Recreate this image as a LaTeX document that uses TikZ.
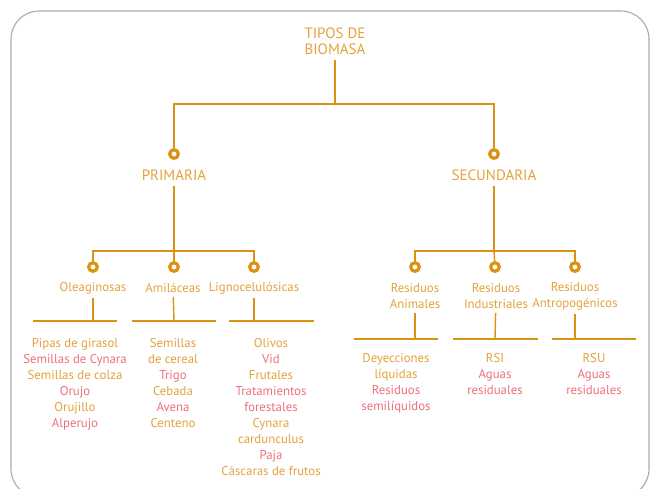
\documentclass[tikz,border=0pt]{standalone}
\usepackage{fontspec}
\setmainfont{PT Sans}
\usepackage{tikz}
\usetikzlibrary{positioning, calc}
\definecolor{lnc}{HTML}{DB9212}
\definecolor{org}{HTML}{E3A23A}
\definecolor{pnk}{HTML}{EE6F7A}
\definecolor{frm}{HTML}{A9A9AD}
\begin{document}
\begin{tikzpicture}[x=1pt,y=-1pt]
	 \tikzstyle{every node}=[font=\fontsize{12.8}{16}\selectfont]
	 \tikzstyle{edge} = [draw,line width=1.4pt,lnc]
	 \tikzstyle{dot}=[circle,draw=lnc,fill=white,line width=3.2pt,minimum size=8.6pt,inner sep=0pt]
	 \tikzstyle{titulo}=[text=org,align=center,inner sep=4pt]
	 \tikzstyle{mayus}=[titulo,font=\fontsize{15}{16}\selectfont,inner sep=5pt]
	 \tikzstyle{lista}=[text=org,align=center,anchor=north,inner sep=0pt]
	 \useasboundingbox (0,0) rectangle (651,488);
	 \draw[frm,line width=1.1pt,rounded corners=28pt] (11,11) rectangle (649,497);
	 % niveles superiores
	 \node[mayus] (tipos) at (335,41) {TIPOS DE\\BIOMASA};
	 \node[dot] (dpri) at (174,154) {};
	 \node[dot] (dsec) at (494,154) {};
	 \node[mayus] (pri) at (174,175) {PRIMARIA};
	 \node[mayus] (sec) at (494,175) {SECUNDARIA};
	 \coordinate (b0) at (335,104);
	 \draw[edge] (tipos) -- (b0);
	 \draw[edge] (dpri) |- (b0) -| (dsec);
	 % primaria
	 \node[dot] (dole) at (93,267) {};
	 \node[dot] (dami) at (174,267) {};
	 \node[dot] (dlig) at (254,267) {};
	 \coordinate (b1) at (174,251);
	 \draw[edge] (pri) -- (b1);
	 \draw[edge] (dole) |- (b1) -| (dlig);
	 \draw[edge] (b1) -- (dami);
	 \node[titulo] (ole) at (93,288) {Oleaginosas};
	 \node[titulo] (ami) at (173,288) {Amiláceas};
	 \node[titulo] (lig) at (254,288) {Lignocelulósicas};
	 \coordinate (bole) at (93,321);
	 \coordinate (bami) at (174,321);
	 \coordinate (blig) at (254,321);
	 \draw[edge] (ole) -- (bole);
	 \draw[edge] (ami) -- (bami);
	 \draw[edge] (lig) -- (blig);
	 \draw[edge] (33,321) -- (117,321);
	 \draw[edge] (132,321) -- (216,321);
	 \draw[edge] (229,321) -- (314,321);
	 \node[lista] (lole) at (75,338) {Pipas de girasol\\\textcolor{pnk}{Semillas de Cynara}\\Semillas de colza\\\textcolor{pnk}{Orujo}\\Orujillo\\\textcolor{pnk}{Alperujo}};
	 \node[lista] (lami) at (173,338) {Semillas\\de cereal\\\textcolor{pnk}{Trigo}\\Cebada\\\textcolor{pnk}{Avena}\\Centeno};
	 \node[lista] (llig) at (271,338) {Olivos\\\textcolor{pnk}{Vid}\\Frutales\\\textcolor{pnk}{Tratamientos}\\\textcolor{pnk}{forestales}\\Cynara\\cardunculus\\\textcolor{pnk}{Paja}\\Cáscaras de frutos};
	 % secundaria
	 \node[dot] (dani) at (415,267) {};
	 \node[dot] (dind) at (495,267) {};
	 \node[dot] (dant) at (575,267) {};
	 \coordinate (b2) at (494,251);
	 \draw[edge] (sec) -- (b2);
	 \draw[edge] (dani) |- (b2) -| (dant);
	 \draw[edge] (b2) -- (dind);
	 \node[titulo] (ani) at (415,296) {Residuos\\Animales};
	 \node[titulo] (ind) at (496,296) {Residuos\\Industriales};
	 \node[titulo] (ant) at (575,296) {Residuos\\Antropogénicos};
	 \coordinate (bani) at (415,339);
	 \coordinate (bind) at (495,339);
	 \coordinate (bant) at (575,339);
	 \draw[edge] (ani) -- (bani);
	 \draw[edge] (ind) -- (bind);
	 \draw[edge] (ant) -- (bant);
	 \draw[edge] (354,339) -- (438,339);
	 \draw[edge] (453,339) -- (538,339);
	 \draw[edge] (552,339) -- (636,339);
	 \node[lista] (lani) at (396,353) {Deyecciones\\líquidas\\\textcolor{pnk}{Residuos}\\\textcolor{pnk}{semilíquidos}};
	 \node[lista] (lind) at (495,353) {RSI\\\textcolor{pnk}{Aguas}\\\textcolor{pnk}{residuales}};
	 \node[lista] (lant) at (594,353) {RSU\\\textcolor{pnk}{Aguas}\\\textcolor{pnk}{residuales}};
 \end{tikzpicture}
\end{document}
